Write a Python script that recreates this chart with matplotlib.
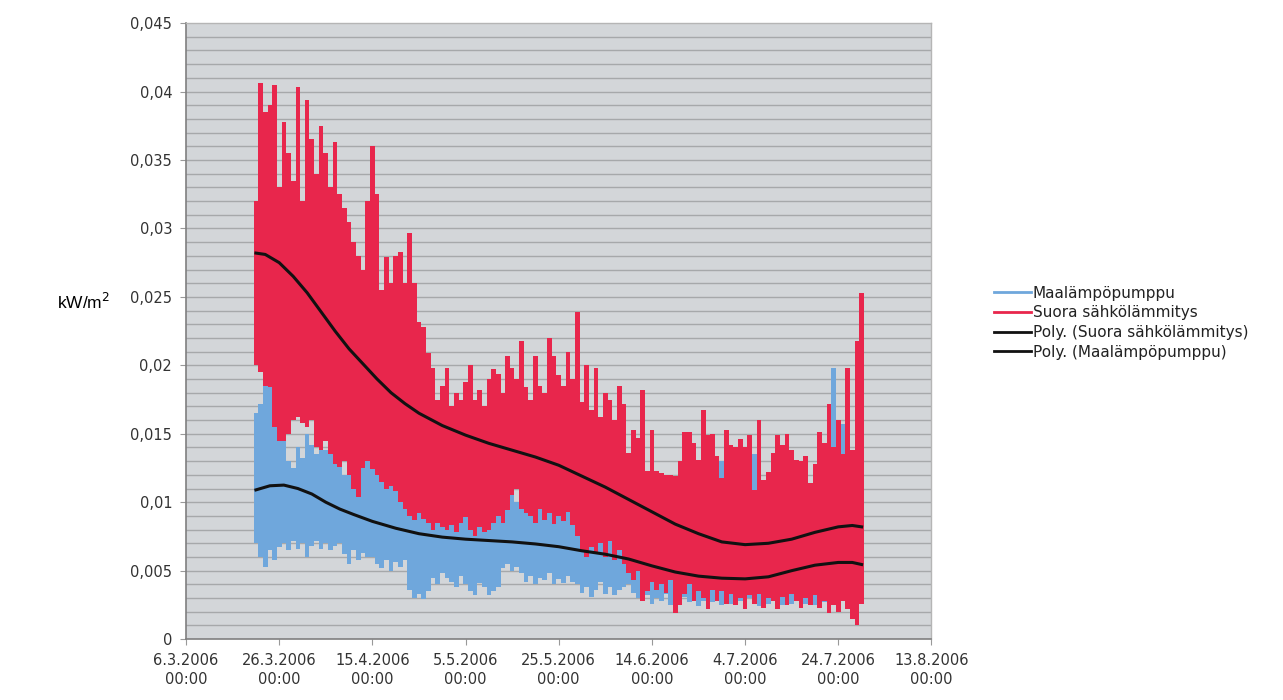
import numpy as np
import matplotlib
matplotlib.use("Agg")
import matplotlib.pyplot as plt
from matplotlib.lines import Line2D

# Day numbers counted from 6.3.2006 00:00, values in 1/1000 kW/m2
FIRST_DAY = 15

red_hi = [32.0, 40.6, 38.5, 39.0, 40.5, 33.0, 37.8, 35.5, 33.5, 40.3,
          32.0, 39.4, 36.5, 34.0, 37.5, 35.5, 33.0, 36.3, 32.5, 31.5,
          30.5, 29.0, 28.0, 27.0, 32.0, 36.0, 32.5, 25.5, 27.9, 26.0,
          28.0, 28.3, 26.0, 29.7, 26.0, 23.2, 22.8, 20.9, 19.8, 17.5,
          18.5, 19.8, 17.0, 18.0, 17.5, 18.8, 20.0, 17.5, 18.2, 17.0,
          19.0, 19.7, 19.4, 18.0, 20.7, 19.8, 19.0, 21.8, 18.4, 17.5,
          20.7, 18.5, 18.0, 22.0, 20.7, 19.3, 18.5, 21.0, 19.0, 23.9,
          17.3, 20.0, 16.7, 19.8, 16.2, 18.0, 17.5, 16.0, 18.5, 17.2,
          13.6, 15.3, 14.7, 18.2, 12.3, 15.3, 12.3, 12.1, 12.0, 12.0,
          11.9, 13.0, 15.1, 15.1, 14.3, 13.1, 16.7, 14.9, 15.0, 13.4,
          11.8, 15.3, 14.2, 14.0, 14.6, 14.0, 14.9, 10.9, 16.0, 11.6,
          12.2, 13.6, 14.9, 14.2, 15.0, 13.8, 13.1, 13.0, 13.4, 11.4,
          12.8, 15.1, 14.3, 17.2, 14.0, 16.0, 13.5, 19.8, 13.8, 21.8,
          25.3]

red_lo = [20.0, 19.5, 18.5, 18.4, 15.5, 14.5, 14.5, 15.0, 16.0, 16.2,
          15.8, 15.5, 16.0, 14.0, 13.8, 14.5, 13.5, 12.8, 12.6, 13.0,
          12.0, 11.0, 10.4, 12.5, 13.0, 12.4, 12.0, 11.5, 11.0, 11.2,
          10.8, 10.0, 9.5, 9.0, 8.7, 9.2, 8.8, 8.5, 8.0, 8.5,
          8.2, 8.0, 8.3, 7.8, 8.5, 8.9, 8.0, 7.5, 8.2, 7.8,
          8.0, 8.5, 9.0, 8.5, 9.4, 10.5, 11.0, 9.5, 9.2, 9.0,
          8.5, 9.5, 8.7, 9.2, 8.4, 9.0, 8.6, 9.3, 8.3, 7.5,
          6.5, 6.0, 6.7, 6.2, 7.0, 6.0, 7.2, 5.8, 6.5, 5.5,
          4.8, 4.3, 5.0, 2.8, 3.5, 4.2, 3.6, 4.0, 3.4, 4.3,
          1.9, 2.5, 3.3, 4.0, 2.8, 3.5, 3.0, 2.2, 3.6, 2.8,
          3.5, 2.6, 3.3, 2.5, 3.0, 2.2, 3.2, 2.6, 3.3, 2.3,
          3.0, 2.8, 2.2, 3.1, 2.5, 3.3, 2.8, 2.3, 3.0, 2.5,
          3.2, 2.3, 2.8, 1.9, 2.5, 2.0, 2.8, 2.2, 1.5, 1.0,
          2.6]

blue_hi = [16.5, 17.2, 18.5, 19.0, 16.8, 15.5, 14.5, 13.0, 12.5, 14.0,
           13.2, 15.0, 14.2, 13.5, 14.8, 13.8, 13.5, 12.8, 13.2, 12.0,
           13.0, 12.5, 11.8, 12.5, 13.0, 13.5, 12.5, 12.0, 12.8, 11.5,
           12.0, 11.0, 11.5, 10.5, 10.0, 10.8, 9.5, 10.0, 9.8, 10.5,
           11.0, 10.2, 11.5, 10.0, 10.8, 11.0, 10.5, 11.8, 10.2, 10.8,
           11.0, 10.5, 11.0, 11.8, 10.5, 11.2, 10.0, 11.5, 10.5, 9.8,
           10.4, 11.0, 9.5, 10.8, 10.2, 10.4, 9.8, 10.6, 9.5, 9.0,
           8.5, 9.0, 8.2, 8.8, 8.0, 8.5, 7.8, 8.2, 7.5, 7.5,
           8.0, 7.0, 6.5, 7.2, 6.0, 6.8, 6.2, 7.0, 6.0, 6.5,
           5.8, 6.4, 6.0, 7.0, 6.2, 6.6, 7.5, 6.5, 7.0, 9.0,
           13.0, 7.2, 6.5, 7.0, 6.2, 6.8, 7.5, 13.5, 7.0, 6.5,
           7.2, 6.4, 7.0, 6.6, 7.8, 6.5, 7.0, 8.0, 7.2, 7.5,
           8.5, 7.8, 9.0, 10.5, 19.8, 10.0, 15.7, 9.0, 10.0, 8.5,
           9.0]

blue_lo = [7.0, 6.0, 5.3, 6.5, 5.8, 6.7, 7.0, 6.5, 7.2, 6.6,
           7.0, 6.0, 6.8, 7.2, 6.6, 7.0, 6.5, 6.8, 7.0, 6.2,
           5.5, 6.5, 5.8, 6.3, 6.0, 6.0, 5.5, 5.2, 5.8, 5.0,
           5.6, 5.3, 5.8, 3.6, 3.0, 3.3, 2.9, 3.5, 4.5, 4.0,
           4.8, 4.5, 4.2, 3.8, 4.6, 4.0, 3.5, 3.2, 4.1, 3.8,
           3.2, 3.5, 3.8, 5.2, 5.5, 5.0, 5.3, 4.8, 4.2, 4.6,
           4.0, 4.5, 4.3, 4.8, 4.0, 4.4, 4.1, 4.6, 4.2, 4.0,
           3.4, 3.8, 3.1, 3.6, 4.2, 3.3, 3.8, 3.2, 3.6, 3.8,
           4.0, 3.4, 3.0, 2.8, 3.2, 2.6, 3.0, 2.8, 3.3, 2.5,
           2.9, 2.6, 3.1, 2.7, 3.0, 2.4, 2.8, 3.2, 2.7, 3.0,
           2.5, 2.9, 2.6, 3.2, 2.8, 2.5, 3.0, 2.7, 2.4, 2.9,
           2.6, 3.1, 2.7, 2.5, 3.0, 2.6, 2.8, 3.2, 2.6, 2.9,
           2.5, 3.0, 2.7, 2.4, 2.8, 2.6, 3.0, 2.5, 2.8, 2.6,
           3.0]

# trend lines (Excel polynomial fits)
red_trend_days = [15, 17, 20, 23, 26, 29, 32, 35, 38, 41, 44, 47, 50, 55, 60, 65,
                  70, 75, 80, 85, 90, 95, 100, 105, 110, 115, 120, 125, 130, 135,
                  140, 143, 145]
red_trend = [28.2, 28.1, 27.5, 26.5, 25.3, 23.9, 22.5, 21.2, 20.1, 19.0, 18.0,
             17.2, 16.5, 15.6, 14.9, 14.3, 13.8, 13.3, 12.7, 11.9, 11.1, 10.2,
             9.3, 8.4, 7.7, 7.1, 6.9, 7.0, 7.3, 7.8, 8.2, 8.3, 8.2]
blue_trend_days = [15, 18, 21, 24, 27, 30, 33, 36, 40, 45, 50, 55, 60, 65, 70, 75,
                   80, 85, 90, 95, 100, 105, 110, 115, 120, 125, 130, 135, 140,
                   143, 145]
blue_trend = [10.9, 11.2, 11.25, 11.0, 10.6, 10.0, 9.5, 9.1, 8.6, 8.1, 7.7, 7.45,
              7.3, 7.2, 7.1, 6.95, 6.75, 6.45, 6.2, 5.85, 5.35, 4.9, 4.6, 4.45,
              4.4, 4.55, 5.0, 5.4, 5.6, 5.6, 5.45]

x_ticks = [0, 20, 40, 60, 80, 100, 120, 140, 160]
x_labels = ['6.3.2006\n00:00', '26.3.2006\n00:00', '15.4.2006\n00:00',
            '5.5.2006\n00:00', '25.5.2006\n00:00', '14.6.2006\n00:00',
            '4.7.2006\n00:00', '24.7.2006\n00:00', '13.8.2006\n00:00']
y_ticks = [0, 0.005, 0.01, 0.015, 0.02, 0.025, 0.03, 0.035, 0.04, 0.045]
y_labels = ['0', '0,005', '0,01', '0,015', '0,02', '0,025', '0,03', '0,035',
            '0,04', '0,045']

BLUE = '#6fa7dc'
RED = '#e8264c'

days = np.arange(FIRST_DAY, FIRST_DAY + len(red_hi))
r_hi = np.array(red_hi) / 1000
r_lo = np.array(red_lo) / 1000
b_hi = np.array(blue_hi) / 1000
b_lo = np.array(blue_lo) / 1000

fig = plt.figure(figsize=(12.83, 7.0), dpi=100)
ax = fig.add_axes([0.145, 0.087, 0.581, 0.88])
ax.set_facecolor('#d3d6d9')

# horizontal gridlines every 0.001
for g in np.arange(0.001, 0.045, 0.001):
    ax.axhline(g, color='#a6a8aa', lw=1.0, zorder=1)

# each day drawn as the span between its low and high reading
ax.bar(days, b_hi - b_lo, bottom=b_lo, width=1.0, color=BLUE, lw=0, zorder=2)
ax.bar(days, r_hi - r_lo, bottom=r_lo, width=1.0, color=RED, lw=0, zorder=3)
ax.plot(red_trend_days, np.array(red_trend) / 1000, color='#111111', lw=2.2, zorder=4)
ax.plot(blue_trend_days, np.array(blue_trend) / 1000, color='#111111', lw=2.2, zorder=4)

ax.set_xlim(0, 160)
ax.set_ylim(0, 0.045)
ax.set_xticks(x_ticks)
ax.set_xticklabels(x_labels, fontsize=10.5, color='#333333', linespacing=1.35)
ax.set_yticks(y_ticks)
ax.set_yticklabels(y_labels, fontsize=10.5, color='#333333')
ax.tick_params(axis='both', length=4, width=0.8, color='#999999', direction='out')
ax.tick_params(axis='x', pad=6)
ax.tick_params(axis='y', pad=6)

for side in ['left', 'bottom']:
    ax.spines[side].set_color('#7f7f7f')
    ax.spines[side].set_linewidth(1.2)
for side in ['top', 'right']:
    ax.spines[side].set_color('#b5b5b5')
    ax.spines[side].set_linewidth(1.0)

fig.text(0.065, 0.568, 'kW/m$^2$', fontsize=12.5, family='Liberation Sans',
         ha='center', va='center')

handles = [Line2D([], [], color=BLUE, lw=2),
           Line2D([], [], color=RED, lw=2),
           Line2D([], [], color='#111111', lw=2),
           Line2D([], [], color='#111111', lw=2)]
names = ['Maalämpöpumppu', 'Suora sähkölämmitys',
         'Poly. (Suora sähkölämmitys)', 'Poly. (Maalämpöpumppu)']
fig.legend(handles, names, loc='center left', bbox_to_anchor=(0.764, 0.539),
           frameon=False, fontsize=11, handlelength=2.4, handletextpad=0.15,
           labelspacing=0.3, labelcolor='#222222')

fig.savefig('out.png', dpi=100)
